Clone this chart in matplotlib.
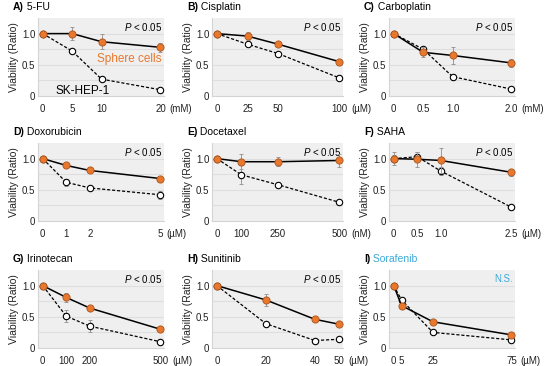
import matplotlib.pyplot as plt
import numpy as np

plt.rcParams["font.family"] = ["Liberation Sans", "DejaVu Sans"]
plt.rcParams["mathtext.fontset"] = "custom"
plt.rcParams["mathtext.it"] = "Liberation Sans:italic"
plt.rcParams["mathtext.rm"] = "Liberation Sans"

ORANGE = "#e8782e"
ORANGE_EDGE = "#a8541c"
CYAN = "#3aa9d8"

# panel data
letters = ["A)", "B)", "C)", "D)", "E)", "F)", "G)", "H)", "I)"]
drugs = ["5-FU", "Cisplatin", "Carboplatin", "Doxorubicin", "Docetaxel",
         "SAHA", "Irinotecan", "Sunitinib", "Sorafenib"]
units = ["(mM)", "(\u00b5M)", "(mM)", "(\u00b5M)", "(nM)",
         "(\u00b5M)", "(\u00b5M)", "(\u00b5M)", "(\u00b5M)"]
doses = [
    [0, 5, 10, 20],
    [0, 25, 50, 100],
    [0, 0.5, 1.0, 2.0],
    [0, 1, 2, 5],
    [0, 100, 250, 500],
    [0, 0.5, 1.0, 2.5],
    [0, 100, 200, 500],
    [0, 20, 40, 50],
    [0, 5, 25, 75],
]
dose_labels = [
    ["0", "5", "10", "20"],
    ["0", "25", "50", "100"],
    ["0", "0.5", "1.0", "2.0"],
    ["0", "1", "2", "5"],
    ["0", "100", "250", "500"],
    ["0", "0.5", "1.0", "2.5"],
    ["0", "100", "200", "500"],
    ["0", "20", "40", "50"],
    ["0", "5", "25", "75"],
]
sphere = [
    [1.0, 1.0, 0.87, 0.78],
    [1.0, 0.96, 0.83, 0.55],
    [1.0, 0.70, 0.65, 0.53],
    [1.0, 0.89, 0.81, 0.68],
    [1.0, 0.95, 0.95, 0.97],
    [1.0, 0.99, 0.97, 0.78],
    [1.0, 0.81, 0.64, 0.30],
    [1.0, 0.77, 0.46, 0.38],
    [1.0, 0.68, 0.42, 0.21],
]
sphere_err = [
    [0, 0.10, 0.12, 0.07],
    [0, 0.06, 0.03, 0.03],
    [0, 0.08, 0.13, 0.07],
    [0, 0.03, 0.03, 0.03],
    [0.03, 0.12, 0.07, 0.10],
    [0.10, 0.12, 0.20, 0.06],
    [0, 0.07, 0.03, 0.03],
    [0, 0.10, 0.03, 0.03],
    [0, 0.03, 0.03, 0.03],
]
skhep = [
    [1.0, 0.72, 0.27, 0.10],
    [1.0, 0.83, 0.68, 0.29],
    [1.0, 0.75, 0.31, 0.11],
    [1.0, 0.62, 0.53, 0.42],
    [1.0, 0.74, 0.58, 0.30],
    [1.0, 1.03, 0.80, 0.22],
    [1.0, 0.51, 0.35, 0.10],
    [1.0, 0.39, 0.12, 0.14],
    [1.0, 0.77, 0.25, 0.13],
]
skhep_err = [
    [0, 0.02, 0.02, 0.02],
    [0, 0.03, 0.03, 0.04],
    [0, 0.04, 0.04, 0.02],
    [0, 0.06, 0.03, 0.06],
    [0, 0.15, 0.03, 0.03],
    [0.05, 0.07, 0.07, 0.03],
    [0, 0.10, 0.10, 0.03],
    [0, 0.03, 0.03, 0.03],
    [0, 0.03, 0.03, 0.02],
]
stats = ["P", "P", "P", "P", "P", "P", "P", "P", "N.S."]

fig = plt.figure(figsize=(5.44, 3.66), dpi=100)

col_left = [38, 212, 389]
col_width = [126, 131, 126]
row_top = [18, 143, 270]
row_h = 78
W, H = 544, 366
TICK_FS = 7

for i in range(9):
    r, c = divmod(i, 3)
    x0 = col_left[c] / W
    y0 = 1 - (row_top[r] + row_h) / H
    ax = fig.add_axes([x0, y0, col_width[c] / W, row_h / H])
    ax.set_facecolor("#efefef")
    for s in ax.spines.values():
        s.set_visible(False)
    for side in ["left", "bottom"]:
        ax.spines[side].set_visible(True)
        ax.spines[side].set_color("#d4d4d4")
    for gy in [0.25, 0.5, 0.75, 1.0]:
        ax.axhline(gy, color="#dedede", lw=0.8, zorder=0)

    x = np.array(doses[i], dtype=float)
    span = x.max() - x.min()
    ax.set_xlim(x.min() - 0.04 * span, x.max() + 0.03 * span)
    ax.set_ylim(0, 1.25)

    ax.errorbar(x, skhep[i], yerr=skhep_err[i], fmt="none", ecolor="#9a9a9a",
                elinewidth=0.7, capsize=1.5, capthick=0.7, zorder=2)
    ax.plot(x, skhep[i], ls=(0, (2.5, 1.5)), color="black", lw=0.9,
            marker="o", ms=4.6, mfc="white", mec="black", mew=0.8, zorder=3)
    ax.errorbar(x, sphere[i], yerr=sphere_err[i], fmt="none", ecolor="#9a9a9a",
                elinewidth=0.7, capsize=1.5, capthick=0.7, zorder=4)
    ax.plot(x, sphere[i], ls="-", color="black", lw=1.1,
            marker="o", ms=5.2, mfc=ORANGE, mec=ORANGE_EDGE, mew=0.6, zorder=5)

    ax.set_xticks(x)
    ax.set_xticklabels(dose_labels[i])
    ax.set_yticks([0, 0.5, 1.0])
    ax.set_yticklabels(["0", "0.5", "1.0"])
    ax.tick_params(axis="both", length=0, labelsize=TICK_FS, colors="#222222")
    ax.tick_params(axis="x", pad=6)
    ax.tick_params(axis="y", pad=2)
    ax.set_ylabel("Viability (Ratio)", fontsize=7.5, labelpad=2, color="#222222")

    # unit after the last dose label
    last = dose_labels[i][-1]
    half_w = 0.556 * TICK_FS * (len(last) - 0.5 * last.count(".")) / 2
    ax.annotate(units[i], xy=(x[-1], 0), xycoords=("data", "axes fraction"),
                xytext=(half_w + 2.5, -6), textcoords="offset points",
                ha="left", va="top", fontsize=TICK_FS, color="#222222")

    # panel title
    t = ax.annotate(letters[i], xy=(0, 1), xycoords="axes fraction",
                    xytext=(-18, 4), textcoords="offset points",
                    ha="left", va="bottom", fontsize=7.5, fontweight="bold")
    ax.annotate(" " + drugs[i], xy=(1, 0), xycoords=t, ha="left", va="bottom",
                fontsize=7.5, color=CYAN if stats[i] == "N.S." else "black")

    if stats[i] == "N.S.":
        ax.text(0.985, 0.88, "N.S.", transform=ax.transAxes, ha="right",
                va="center", fontsize=7, color=CYAN)
    else:
        ax.text(0.985, 0.88, r"$\it{P}$ < 0.05", transform=ax.transAxes,
                ha="right", va="center", fontsize=7)

    if i == 0:
        ax.text(14.7, 0.60, "Sphere cells", ha="center", va="center",
                fontsize=8.5, color=ORANGE, zorder=6)
        ax.text(6.8, 0.08, "SK-HEP-1", ha="center", va="center",
                fontsize=8.5, color="black", zorder=6)

fig.savefig("out.png", dpi=100)
plt.close(fig)
